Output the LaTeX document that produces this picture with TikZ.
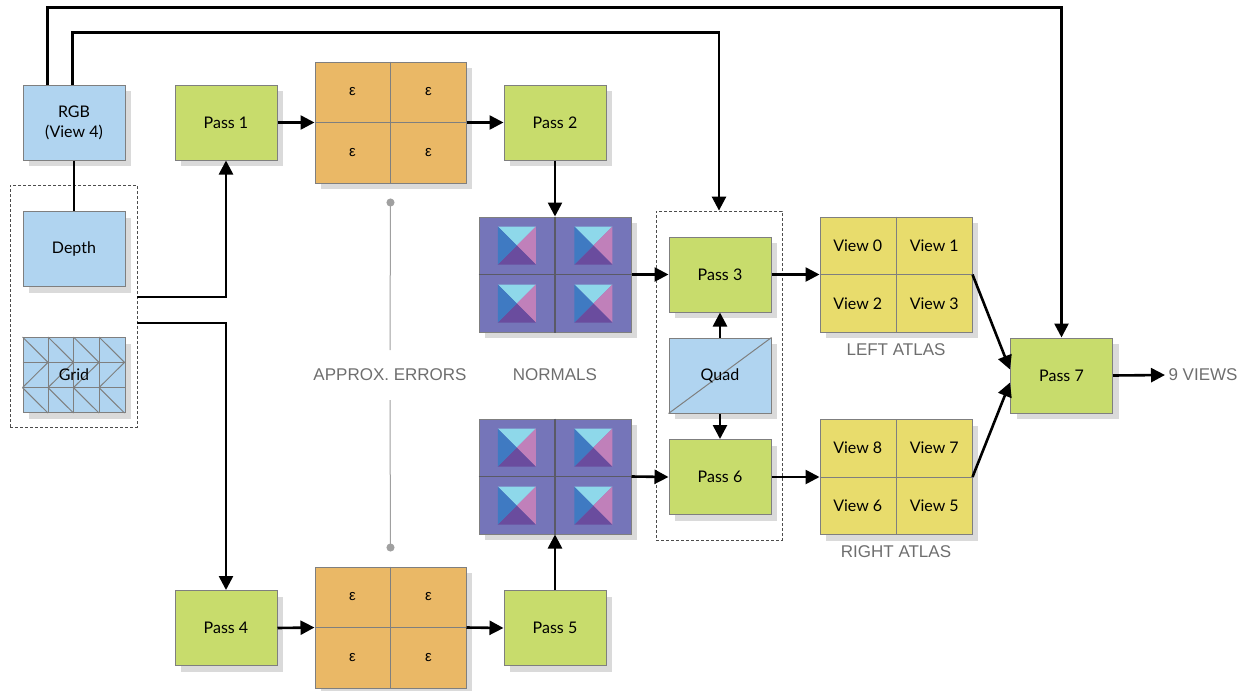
\documentclass[tikz,border=0pt]{standalone}
\usepackage{fontspec}
\setmainfont{Lato}
\newfontfamily\labelfont{Liberation Sans}
\usetikzlibrary{arrows.meta,shadows,calc}

\definecolor{boxline}{HTML}{7F7F7F}
\definecolor{darkline}{HTML}{5A5A66}
\definecolor{skyfill}{HTML}{B0D4F0}
\definecolor{passfill}{HTML}{C8DC6C}
\definecolor{errfill}{HTML}{EAB866}
\definecolor{atlasfill}{HTML}{E8DC6C}
\definecolor{normfill}{HTML}{7575B9}
\definecolor{pyrtop}{HTML}{8ED8EA}
\definecolor{pyrleft}{HTML}{3F7AC2}
\definecolor{pyrright}{HTML}{C080BA}
\definecolor{pyrbottom}{HTML}{6A4C9E}
\definecolor{shade}{HTML}{DADADA}
\definecolor{captiongray}{HTML}{6E6E6E}
\definecolor{guide}{HTML}{A0A0A0}

\tikzset{
  box/.style={draw=boxline, line width=1pt, inner sep=0pt,
    minimum width=102pt, minimum height=75pt, align=center,
    font=\fontsize{16}{20}\selectfont,
    general shadow={fill=shade, shadow xshift=6pt, shadow yshift=-6pt}},
  pass/.style={box, fill=passfill},
  data/.style={box, fill=skyfill},
  atlas/.style={box, minimum width=152pt, minimum height=115pt, fill=atlasfill},
  errmap/.style={box, minimum width=151pt, minimum height=121pt, fill=errfill},
  normmap/.style={box, minimum width=152pt, minimum height=115pt, fill=normfill},
  group/.style={draw=black!70, dash pattern=on 3pt off 2pt, line width=0.8pt,
    inner sep=0pt},
  arr/.style={line width=2.6pt, -{Triangle[length=14pt,width=14pt]}},
  link/.style={line width=2.6pt},
  cellline/.style={draw=boxline, line width=1pt},
  normline/.style={draw=darkline, line width=1.2pt},
  caption/.style={font=\labelfont\fontsize{17}{20}\selectfont, text=captiongray},
  cell/.style={font=\fontsize{16}{20}\selectfont, inner sep=0pt},
  eps/.style={font=\labelfont\fontsize{15}{17}\selectfont, inner sep=0pt},
  guideline/.style={draw=guide, line width=1pt},
  pyramid/.pic={
    \fill[pyrtop]    (-19,-19) -- (19,-19) -- (0,0) -- cycle;
    \fill[pyrright]  (19,-19) -- (19,19) -- (0,0) -- cycle;
    \fill[pyrbottom] (19,19) -- (-19,19) -- (0,0) -- cycle;
    \fill[pyrleft]   (-19,19) -- (-19,-19) -- (0,0) -- cycle;
  }
}

\begin{document}
\begin{tikzpicture}[x=1pt, y=-1pt]
\useasboundingbox (0,0) rectangle (1259,691);

% input group: depth and grid
\node[group, minimum width=127pt, minimum height=242pt] (g1) at (73.5,306) {};
\node[data] (rgb) at (74,122.5) {RGB\\(View 4)};
\node[data] (depth) at (74,249) {Depth};
\node[data] (grid) at (74,375) {};
\begin{scope}[shift={(grid.north west)}]
  \foreach \i in {0,1,2,3} {
    \pgfmathsetmacro{\xa}{25.5*\i}
    \pgfmathsetmacro{\xb}{25.5*\i+25.5}
    \draw[cellline] (\xa,0) -- (\xb,25.33);
    \draw[cellline] (\xa,50.67) -- (\xb,25.33);
    \draw[cellline] (\xa,50.67) -- (\xb,76);
  }
  \foreach \x in {25.5,51,76.5} \draw[cellline] (\x,0) -- (\x,76);
  \foreach \y in {25.33,50.67} \draw[cellline] (0,\y) -- (102,\y);
\end{scope}
\node[cell] (gridlbl) at (grid.center) {Grid};

% top branch
\node[pass] (p1) at (226,122.5) {Pass 1};
\node[errmap] (e1) at (390.5,122.5) {};
\node[pass] (p2) at (555,122.5) {Pass 2};
\node[normmap] (n1) at (555,274.5) {};

% bottom branch
\node[pass] (p4) at (226,628) {Pass 4};
\node[errmap] (e2) at (390.5,627.5) {};
\node[pass] (p5) at (555,628) {Pass 5};
\node[normmap] (n2) at (555,476.5) {};

% error maps: 2x2 tiles
\foreach \m/\k in {e1/a, e2/b} {
  \draw[cellline] (\m.north) -- (\m.south);
  \draw[cellline] (\m.west) -- (\m.east);
  \node[eps] (\k1) at ($(\m.center)!0.5!(\m.north west)$) {ε};
  \node[eps] (\k2) at ($(\m.center)!0.5!(\m.north east)$) {ε};
  \node[eps] (\k3) at ($(\m.center)!0.5!(\m.south west)$) {ε};
  \node[eps] (\k4) at ($(\m.center)!0.5!(\m.south east)$) {ε};
}

% normal maps: 2x2 tiles with a pyramid in each
\foreach \c in {north west, north east, south west, south east} {
  \pic at ($(n1.center)!0.5!(n1.\c)$) {pyramid};
  \pic at ($(n2.center)!0.5!(n2.\c)$) {pyramid};
}
\draw[normline] (n1.north) -- (n1.south);
\draw[normline] (n1.west) -- (n1.east);
\draw[normline] (n2.north) -- (n2.south);
\draw[normline] (n2.west) -- (n2.east);

% shading group
\node[group, minimum width=126pt, minimum height=329pt] (g2) at (719,375.5) {};
\node[pass] (p3) at (720,274.5) {Pass 3};
\node[data] (quad) at (720,375.5) {};
\draw[cellline] (quad.south west) -- (quad.north east);
\node[cell] (quadlbl) at (quad.center) {Quad};
\node[pass] (p6) at (720,477) {Pass 6};

% view atlases
\node[atlas] (la) at (896,274.5) {};
\node[atlas] (ra) at (896,477) {};
\foreach \m in {la, ra} {
  \draw[cellline] (\m.north) -- (\m.south);
  \draw[cellline] (\m.west) -- (\m.east);
}
\node[cell] (v0) at ($(la.center)!0.5!(la.north west)$) {View 0};
\node[cell] (v1) at ($(la.center)!0.5!(la.north east)$) {View 1};
\node[cell] (v2) at ($(la.center)!0.5!(la.south west)$) {View 2};
\node[cell] (v3) at ($(la.center)!0.5!(la.south east)$) {View 3};
\node[cell] (v8) at ($(ra.center)!0.5!(ra.north west)$) {View 8};
\node[cell] (v7) at ($(ra.center)!0.5!(ra.north east)$) {View 7};
\node[cell] (v6) at ($(ra.center)!0.5!(ra.south west)$) {View 6};
\node[cell] (v5) at ($(ra.center)!0.5!(ra.south east)$) {View 5};

\node[pass] (p7) at (1061.5,375.5) {Pass 7};

% captions
\node[caption] (errlbl) at (390,375) {APPROX. ERRORS};
\node[caption] (normlbl) at (555,375) {NORMALS};
\node[caption] (llbl) at (896,350) {LEFT ATLAS};
\node[caption] (rlbl) at (896,552) {RIGHT ATLAS};
\node[caption, anchor=west] (out) at (1165,375) {9 VIEWS};

% guide line for the error maps
\draw[guideline, {Circle[length=8pt]}-] ([yshift=-15pt]e1.south) -- ([yshift=25pt]errlbl.center);
\draw[guideline, -{Circle[length=8pt]}] ([yshift=-25pt]errlbl.center) -- ([yshift=15pt]e2.north);

% connectors
\draw[link] (rgb.south) -- (depth.north);
\draw[arr] ([xshift=25pt]rgb.north west) -- ++(0,-77) -| (p7.north);
\draw[arr] ([xshift=50pt]rgb.north west) -- ++(0,-52) -| (g2.north);
\draw[arr] ([yshift=9pt]g1.east) -| (p1.south);
\draw[arr] ([yshift=-17pt]g1.east) -| (p4.north);

\draw[arr] (p1.east) -- (e1.west);
\draw[arr] (e1.east) -- (p2.west);
\draw[arr] (p2.south) -- (n1.north);
\draw[arr] (n1.east) -- (p3.west);
\draw[arr] (p4.east) -- (e2.west);
\draw[arr] (e2.east) -- (p5.west);
\draw[arr] (p5.north) -- (n2.south);
\draw[arr] (n2.east) -- (p6.west);

\draw[arr] (quad.north) -- (p3.south);
\draw[arr] (quad.south) -- (p6.north);
\draw[arr] (p3.east) -- (la.west);
\draw[arr] (p6.east) -- (ra.west);

\draw[arr] (la.east) -- ([yshift=6pt]p7.west);
\draw[arr] (ra.east) -- ([yshift=-7pt]p7.west);
\draw[arr] (p7.east) -- (out.west);
\end{tikzpicture}
\end{document}
